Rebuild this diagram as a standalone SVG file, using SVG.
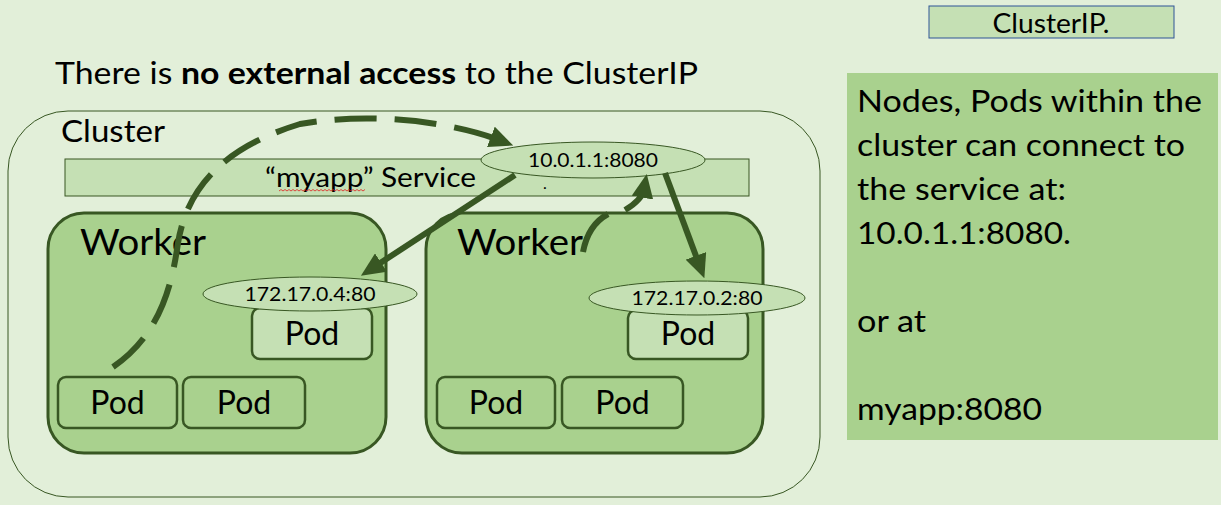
<svg xmlns="http://www.w3.org/2000/svg" width="1221" height="505" viewBox="0 0 1221 505">
<style>
text{font-family:Lato,"Open Sans","Liberation Sans",sans-serif;fill:#000}
.worker{fill:#a9d18e;stroke:#385723;stroke-width:3}
.pod{fill:#a9d18e;stroke:#385723;stroke-width:2.5}
.podl{fill:#c5e0b4;stroke:#385723;stroke-width:2.5}
.ip{fill:#c5e0b4;stroke:#385723;stroke-width:1}
.podt{font-size:32px;text-anchor:middle}
.ipt{font-size:20px;text-anchor:middle}
.wt{font-size:37px}
.panel{font-size:31px}
.conn{fill:none;stroke:#385723;stroke-width:6}
</style>
<defs>
<marker id="ah" markerUnits="userSpaceOnUse" markerWidth="24" markerHeight="22" refX="8" refY="10" orient="auto" viewBox="0 0 22 20">
<path d="M0,0 L22,10 L0,20 z" fill="#385723"/>
</marker>
</defs>
<rect width="1221" height="505" fill="#e2efd9"/>

<g id="clusterip-label">
<rect x="929" y="6" width="245" height="32" fill="#c5e0b4" stroke="#2f5597" stroke-width="1"/>
<text x="1051" y="33" font-size="26" text-anchor="middle" textLength="117" lengthAdjust="spacingAndGlyphs">ClusterIP.</text>
</g>

<g id="title">
<text x="55" y="84" font-size="31" textLength="643" lengthAdjust="spacingAndGlyphs">There is <tspan font-weight="bold">no external access</tspan> to the ClusterIP</text>
</g>

<g id="info-panel">
<rect x="847" y="73" width="371" height="367" fill="#a9d18e"/>
<text class="panel" x="857" y="112" textLength="345" lengthAdjust="spacingAndGlyphs">Nodes, Pods within the</text>
<text class="panel" x="857" y="156" textLength="328" lengthAdjust="spacingAndGlyphs">cluster can connect to</text>
<text class="panel" x="857" y="200" textLength="209" lengthAdjust="spacingAndGlyphs">the service at:</text>
<text class="panel" x="857" y="244" textLength="214" lengthAdjust="spacingAndGlyphs">10.0.1.1:8080.</text>
<text class="panel" x="857" y="332" textLength="69" lengthAdjust="spacingAndGlyphs">or at</text>
<text class="panel" x="857" y="420" textLength="185" lengthAdjust="spacingAndGlyphs">myapp:8080</text>
</g>

<g id="cluster">
<rect x="8" y="111" width="812" height="386" rx="60" ry="60" fill="#e2efd9" stroke="#385723" stroke-width="1"/>
<text x="61" y="142" font-size="31" textLength="104" lengthAdjust="spacingAndGlyphs">Cluster</text>
</g>

<g id="service">
<rect x="65" y="159" width="684" height="37" fill="#c5e0b4" stroke="#385723" stroke-width="1"/>
<text x="265" y="187" font-size="27" textLength="211" lengthAdjust="spacingAndGlyphs">“myapp” Service</text>
<path d="M279,191 l2,-1.5 l2,1.5 l2,-1.5 l2,1.5 l2,-1.5 l2,1.5 l2,-1.5 l2,1.5 l2,-1.5 l2,1.5 l2,-1.5 l2,1.5 l2,-1.5 l2,1.5 l2,-1.5 l2,1.5 l2,-1.5 l2,1.5 l2,-1.5 l2,1.5 l2,-1.5 l2,1.5 l2,-1.5 l2,1.5 l2,-1.5 l2,1.5 l2,-1.5 l2,1.5 l2,-1.5 l2,1.5 l2,-1.5 l2,1.5 l2,-1.5 l2,1.5 l2,-1.5 l2,1.5 l2,-1.5 l2,1.5 l2,-1.5 l2,1.5 l2,-1.5 l2,1.5 l2,-1.5" fill="none" stroke="#e02020" stroke-width="0.8"/>
<text x="545" y="189" font-size="16" text-anchor="middle">.</text>
</g>

<g id="worker1">
<rect class="worker" x="48" y="213" width="338" height="240" rx="36" ry="36"/>
<text class="wt" x="80" y="255" textLength="126" lengthAdjust="spacingAndGlyphs">Worker</text>
</g>

<g id="worker2">
<rect class="worker" x="426" y="213" width="337" height="240" rx="36" ry="36"/>
<text class="wt" x="457" y="255" textLength="126" lengthAdjust="spacingAndGlyphs">Worker</text>
</g>

<g id="pod-w1-a">
<rect class="pod" x="58" y="377" width="119" height="51" rx="8"/>
<text class="podt" x="117.5" y="414">Pod</text>
</g>
<g id="pod-w1-b">
<rect class="pod" x="183" y="377" width="122" height="51" rx="8"/>
<text class="podt" x="244" y="414">Pod</text>
</g>
<g id="pod-w1-c">
<rect class="podl" x="252" y="308" width="120" height="51" rx="8"/>
<text class="podt" x="312" y="345">Pod</text>
</g>
<g id="pod-w2-a">
<rect class="pod" x="437" y="377" width="118" height="51" rx="8"/>
<text class="podt" x="496" y="414">Pod</text>
</g>
<g id="pod-w2-b">
<rect class="pod" x="562" y="377" width="121" height="51" rx="8"/>
<text class="podt" x="622.5" y="414">Pod</text>
</g>
<g id="pod-w2-c">
<rect class="podl" x="628" y="310" width="120" height="49" rx="8"/>
<text class="podt" x="688" y="345">Pod</text>
</g>

<g id="ip-pod1">
<ellipse class="ip" cx="310" cy="294" rx="107" ry="17"/>
<text class="ipt" x="310" y="301" textLength="131" lengthAdjust="spacingAndGlyphs">172.17.0.4:80</text>
</g>
<g id="ip-pod2">
<ellipse class="ip" cx="697" cy="298" rx="108" ry="17"/>
<text class="ipt" x="697" y="305" textLength="131" lengthAdjust="spacingAndGlyphs">172.17.0.2:80</text>
</g>
<g id="ip-service">
<ellipse class="ip" cx="593" cy="160" rx="112" ry="18"/>
<text class="ipt" x="593" y="167" textLength="130" lengthAdjust="spacingAndGlyphs">10.0.1.1:8080</text>
</g>

<g id="connectors">
<path class="conn" d="M113,367 C160,335 172,285 178,243 C186,195 215,150 300,124 C380,110 460,125 499,140" stroke-width="5.5" stroke-dasharray="42 18" marker-end="url(#ah)"/>
<path class="conn" d="M515,175 L373.7,267.3" marker-end="url(#ah)"/>
<path class="conn" d="M665,173 L699,264" marker-end="url(#ah)"/>
<path class="conn" d="M583,252 Q588,225 608,214"/>
<path class="conn" d="M625,210 Q642,200 644,189" marker-end="url(#ah)"/>
</g>
</svg>
